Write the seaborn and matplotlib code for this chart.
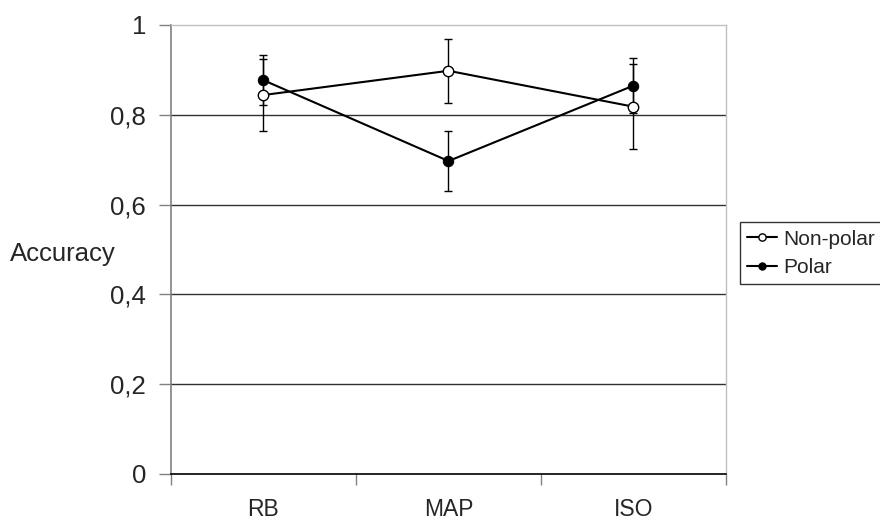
import numpy as np
import matplotlib
matplotlib.use("Agg")
import matplotlib.pyplot as plt
import seaborn as sns

# values
categories = ["RB", "MAP", "ISO"]
nonpolar = [0.844, 0.898, 0.818]
nonpolar_err = [0.080, 0.071, 0.095]
polar = [0.877, 0.697, 0.865]
polar_err = [0.056, 0.067, 0.062]
yticks = [0, 0.2, 0.4, 0.6, 0.8, 1]
ytick_labels = ["0", "0,2", "0,4", "0,6", "0,8", "1"]

sns.set_style("white")
plt.rcParams["font.family"] = ["Liberation Sans", "DejaVu Sans"]

fig = plt.figure(figsize=(8.8, 5.26), dpi=100)
ax = fig.add_axes([0.1943, 0.0989, 0.8250 - 0.1943, 0.9525 - 0.0989])

x = np.arange(len(categories))

# error bars first so the markers sit on top
ax.errorbar(x, nonpolar, yerr=nonpolar_err, fmt="none", ecolor="black",
            elinewidth=1, capsize=3, capthick=1, zorder=3)
ax.errorbar(x, polar, yerr=polar_err, fmt="none", ecolor="black",
            elinewidth=1, capsize=3, capthick=1, zorder=3)

sns.lineplot(x=x, y=nonpolar, ax=ax, color="black", linewidth=1.5,
             marker="o", markersize=7.5, markerfacecolor="white",
             markeredgecolor="black", markeredgewidth=1,
             label="Non-polar", zorder=4)
sns.lineplot(x=x, y=polar, ax=ax, color="black", linewidth=1.5,
             marker="o", markersize=7.5, markerfacecolor="black",
             markeredgecolor="black", label="Polar", zorder=4)

ax.set_xlim(-0.5, len(categories) - 0.5)
ax.set_ylim(0, 1)
ax.set_yticks(yticks)
ax.set_yticklabels(ytick_labels, fontsize=18.5)
ax.set_xticks(x)
ax.set_xticklabels(categories, fontsize=16.5)
ax.set_xticks(np.arange(len(categories) + 1) - 0.5, minor=True)
ax.tick_params(axis="x", which="major", length=0, pad=17)
ax.tick_params(axis="x", which="minor", length=8, width=1, color="#808080",
               direction="out", bottom=True)
ax.tick_params(axis="y", length=9, width=1, color="#808080",
               direction="out", left=True, pad=9)

# gridlines like the spreadsheet original
for v in yticks[1:-1]:
    ax.axhline(v, color="#303030", linewidth=1, zorder=1)

for side in ["top", "right"]:
    ax.spines[side].set_color("#c0c0c0")
    ax.spines[side].set_linewidth(1)
ax.spines["left"].set_color("#808080")
ax.spines["left"].set_linewidth(1.2)
ax.spines["bottom"].set_color("black")
ax.spines["bottom"].set_linewidth(1.2)

ax.set_xlabel("")
ax.set_ylabel("Accuracy", fontsize=18.5, rotation=0, ha="left", va="center")
ax.yaxis.set_label_coords(-0.290, 0.49)

leg = ax.legend(loc="upper left", bbox_to_anchor=(0.841, 0.577),
                bbox_transform=fig.transFigure, borderaxespad=0,
                fontsize=15, frameon=True, fancybox=False, markerscale=0.7,
                handlelength=1.4, handletextpad=0.3, borderpad=0.35,
                labelspacing=0.45)
leg.get_frame().set_edgecolor("black")
leg.get_frame().set_linewidth(1)

plt.savefig("out.png", dpi=100)
